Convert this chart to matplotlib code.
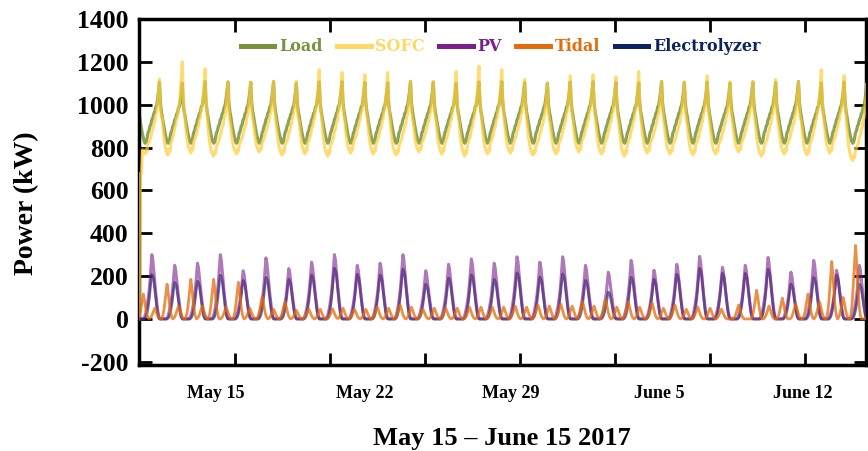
import numpy as np
import matplotlib
matplotlib.use("Agg")
import matplotlib.pyplot as plt
from matplotlib.lines import Line2D
from matplotlib.transforms import blended_transform_factory

# Données (pas horaire, 32 jours : 15 mai -> 15 juin 2017)
n_days = 32

# profil journalier type de la charge (kW), h0..h23
load_shape = [945, 915, 890, 865, 845, 828, 820, 825, 845, 870, 878, 900,
              908, 930, 938, 958, 965, 988, 995, 1025, 1060, 1105, 1010, 970]
load_peak = [1105, 1100, 1108, 1106, 1104, 1108, 1100, 1106, 1108, 1104, 1102, 1108,
             1105, 1100, 1106, 1108, 1104, 1100, 1106, 1108, 1104, 1102, 1108, 1104,
             1106, 1100, 1106, 1104, 1108, 1102, 1106, 1104]

# SOFC
sofc_shape = [905, 860, 825, 800, 785, 775, 768, 790, 780, 815, 822, 835,
              845, 870, 878, 905, 912, 945, 958, 1000, 1050, 1110, 985, 935]
sofc_peak = [1120, 1200, 1167, 1105, 1105, 1110, 1110, 1163, 1150, 1140, 1150, 1110,
             1110, 1155, 1180, 1163, 1117, 1100, 1135, 1140, 1130, 1155, 1107, 1107,
             1135, 1107, 1107, 1117, 1107, 1163, 1135, 1100]
sofc_low = [770, 765, 775, 760, 770, 780, 765, 770, 760, 775, 770, 765,
            780, 770, 760, 770, 775, 765, 770, 780, 770, 760, 775, 770,
            765, 770, 780, 760, 770, 765, 775, 740]
sofc_start = [0, 680, 680, 790]

# PV
pv_shape = [0, 0, 0, 0, 0, 0.02, 0.06, 0.12, 0.2, 0.3, 0.42, 0.58,
            0.8, 1.0, 0.92, 0.75, 0.58, 0.42, 0.28, 0.15, 0.06, 0.01, 0, 0]
pv_peak = [300, 250, 260, 300, 225, 285, 235, 265, 300, 250, 260, 300,
           225, 255, 280, 260, 290, 265, 290, 250, 218, 273, 227, 255,
           292, 241, 250, 287, 218, 273, 227, 250]

# Electrolyseur
elec_shape = [0, 0, 0, 0, 0, 0, 0.02, 0.06, 0.14, 0.26, 0.42, 0.62,
              0.85, 1.0, 0.96, 0.88, 0.7, 0.5, 0.3, 0.14, 0.04, 0, 0, 0]
elec_peak = [208, 171, 176, 204, 180, 194, 185, 204, 236, 208, 204, 232,
             162, 190, 205, 185, 215, 195, 210, 180, 125, 194, 185, 208,
             236, 213, 213, 232, 162, 194, 204, 162]

# Marée : pics principaux et secondaires (heure, kW)
tidal_hi_hour = [4, 29, 54, 78, 104, 129, 153, 178, 203, 226, 250, 274, 298, 322, 347, 371,
                 395, 419, 443, 466, 490, 514, 539, 563, 587, 612, 649, 676, 703, 728, 753]
tidal_hi_kw = [116, 162, 185, 185, 171, 102, 79, 46, 47, 46, 56, 65, 46, 50, 55, 55,
               60, 65, 70, 80, 93, 79, 74, 65, 56, 46, 134, 97, 116, 268, 343]
tidal_lo_hour = [16, 41, 66, 91, 116, 141, 165, 190, 214, 238, 262, 286, 310, 334, 359,
                 383, 407, 431, 455, 478, 502, 526, 551, 575, 600, 630, 662, 690, 715, 740]
tidal_lo_kw = [50, 60, 60, 55, 50, 45, 40, 45, 50, 45, 50, 55, 50, 50, 55,
               55, 55, 60, 60, 60, 55, 55, 50, 45, 50, 65, 60, 70, 80, 100]
tidal_pulse = [0.05, 0.15, 0.32, 0.55, 0.8, 1.0, 0.8, 0.55, 0.32, 0.15, 0.05]

date_labels = ["May 15", "May 22", "May 29", "June 5", "June 12"]
date_label_hour = [80, 237, 390, 547, 697]

# Construction des séries horaires
hours = np.arange(n_days * 24)
ls = np.array(load_shape, float)
load = np.concatenate([820 + (ls - 820) * (p - 820) / (ls.max() - 820) for p in load_peak])

ss = np.array(sofc_shape, float)
sofc = np.concatenate([lo + (ss - ss.min()) / (ss.max() - ss.min()) * (p - lo)
                       for p, lo in zip(sofc_peak, sofc_low)])
sofc[:len(sofc_start)] = sofc_start

pv = np.concatenate([np.array(pv_shape) * p for p in pv_peak])
elec = np.concatenate([np.array(elec_shape) * p for p in elec_peak])

tidal = np.zeros(len(hours))
half = len(tidal_pulse) // 2
for h, kw in list(zip(tidal_hi_hour, tidal_hi_kw)) + list(zip(tidal_lo_hour, tidal_lo_kw)):
    for k, f in enumerate(tidal_pulse):
        i = h - half + k
        if 0 <= i < len(tidal):
            tidal[i] = max(tidal[i], kw * f)

plt.rcParams['font.family'] = ['Liberation Serif', 'DejaVu Serif']
plt.rcParams['font.weight'] = 'bold'
plt.rcParams['axes.unicode_minus'] = False

fig = plt.figure(figsize=(8.68, 4.51), dpi=100)
ax = fig.add_axes([0.1607, 0.1907, 0.837, 0.7672])

colors = {"Load": "#77933C", "SOFC": "#FFCC33", "PV": "#7B1F8A",
          "Tidal": "#E46C0A", "Electrolyzer": "#0E2461"}

ax.plot(hours, load, color=colors["Load"], lw=2.3, alpha=0.85, zorder=2)
ax.plot(hours, sofc, color=colors["SOFC"], lw=2.2, alpha=0.7, zorder=3)
ax.plot(hours, elec, color=colors["Electrolyzer"], lw=2.0, alpha=0.65, zorder=4)
ax.plot(hours, pv, color=colors["PV"], lw=2.2, alpha=0.6, zorder=5)
ax.plot(hours, tidal, color=colors["Tidal"], lw=2.0, alpha=0.75, zorder=6)

ax.set_xlim(0, 764)
ax.set_ylim(-215, 1400)
ax.set_xticks(range(100, 800, 100))
ax.set_yticks(range(-200, 1401, 200))
ax.tick_params(direction='in', length=9, width=2, top=True, right=True,
               labelbottom=False, labelsize=18.5, pad=8)
for lab in ax.get_yticklabels():
    lab.set_fontweight('bold')
for sp in ax.spines.values():
    sp.set_linewidth(2.5)

# Légende
leg_names = ["Load", "SOFC", "PV", "Tidal", "Electrolyzer"]
leg_colors = ["#77933C", "#FFD966", "#7B1F8A", "#E46C0A", "#0E2461"]
handles = [Line2D([0], [0], color=c, lw=3.6) for c in leg_colors]
leg = ax.legend(handles, leg_names, loc='center', bbox_to_anchor=(0.497, 0.92),
                ncol=5, frameon=False, handlelength=2.1, handletextpad=0.3,
                columnspacing=0.9, prop={'family': 'DejaVu Serif', 'weight': 'bold', 'size': 11.5})
for txt, c in zip(leg.get_texts(), leg_colors):
    txt.set_color(c)

trans = blended_transform_factory(ax.transData, fig.transFigure)
for lab, h in zip(date_labels, date_label_hour):
    ax.text(h, 1 - 393 / 451, lab, transform=trans, ha='center', va='center',
            fontsize=13, fontweight='bold')

fig.text(502 / 868, 1 - 438 / 451, "May 15 \u2013 June 15 2017", ha='center', va='center',
         fontsize=19, fontweight='bold')
fig.text(27 / 868, 1 - 203 / 451, "Power (kW)", rotation=90, ha='center', va='center',
         fontsize=20, fontweight='bold')

fig.savefig("out.png", dpi=100)
